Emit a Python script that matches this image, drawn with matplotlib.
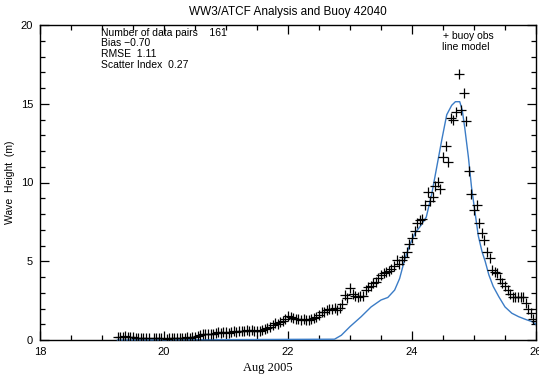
import numpy as np
import matplotlib
matplotlib.use("Agg")
import matplotlib.pyplot as plt
from matplotlib.ticker import MultipleLocator

# buoy obs, hourly from 19.25 Aug (day of month), nan = missing hour
obs_start = 19.25
obs_hs = [
    0.2, 0.2, 0.2, 0.25, 0.2, 0.2, 0.2, 0.15, 0.15, 0.15,
    0.15, 0.15, 0.15, np.nan, 0.15, 0.15, 0.15, 0.15, np.nan, 0.05,
    0.1, 0.1, 0.1, 0.15, 0.15, 0.15, 0.15, 0.2, 0.15, 0.2,
    0.2, 0.25, 0.3, 0.35, 0.4, 0.4, 0.4, 0.4, 0.45, 0.5,
    0.45, 0.5, 0.5, 0.45, 0.5, 0.55, 0.5, 0.55, 0.6, 0.6,
    0.65, 0.6, 0.65, 0.6, 0.6, 0.6, 0.65, 0.7, 0.75, 0.85,
    0.95, 1.05, 1.0, 1.15, 1.2, 1.35, 1.5, 1.45, 1.4, 1.35,
    1.35, 1.3, 1.35, 1.3, 1.3, 1.35, 1.4, 1.45, 1.6, 1.75,
    1.8, 1.9, 2.0, 1.95, 2.05, 1.9, 2.05, 2.3, 2.85, 2.65,
    3.3, 2.9, 2.8, 2.75, 2.8, 2.8, 3.15, 3.35, 3.4, 3.6,
    3.7, 3.95, 4.1, 4.25, 4.3, 4.4, 4.5, 4.7, 5.05, 4.85,
    5.1, 5.3, 5.6, 6.1, 6.5, 6.9, 7.4, 7.6, 7.7, 8.6,
    9.4, 8.8, 9.1, 9.8, 10.05, 9.6, 11.6, 12.3, 11.3, 14.1,
    14.0, 14.5, 16.9, 14.6, 15.7, 13.9, 10.7, 9.3, 8.25, 8.6,
    7.4, 6.8, 6.35, 5.6, 5.2, 4.45, 4.3, 4.25, 3.9, 3.6,
    3.4, 3.15, 2.95, 2.75, 2.7, 2.75, 2.7, 2.7, 2.35, 2.0,
    1.7, 1.35, 1.2,
]
obs_days = obs_start + np.arange(len(obs_hs)) / 24.0

# model line
model_days = [19.25, 22.75, 22.86, 23.0, 23.18, 23.34, 23.5, 23.61, 23.72, 23.8,
              23.88, 23.96, 24.05, 24.13, 24.23, 24.32, 24.4, 24.48, 24.56, 24.64,
              24.7, 24.77, 24.81, 24.85, 24.91, 24.96, 25.02, 25.07, 25.13, 25.18,
              25.24, 25.31, 25.4, 25.5, 25.61, 25.72, 25.83, 25.94, 26.0]
model_hs = [0, 0.05, 0.3, 0.85, 1.48, 2.1, 2.54, 2.7, 3.17, 3.9,
            5.08, 6.0, 6.8, 7.2, 7.8, 9.3, 11.0, 12.7, 14.3, 14.9,
            15.13, 15.13, 14.6, 13.5, 11.6, 9.7, 8.0, 6.6, 5.6, 5.0,
            4.13, 3.4, 2.75, 2.1, 1.7, 1.48, 1.31, 1.16, 1.0]

stats = ["Number of data pairs    161", "Bias \u22120.70", "RMSE  1.11", "Scatter Index  0.27"]

plt.rcParams['font.family'] = ['Liberation Sans', 'DejaVu Sans']

fig = plt.figure(figsize=(5.39, 3.77), dpi=100)
ax = fig.add_axes([40/539, 37/377, 496/539, 315/377])

ax.plot(model_days, model_hs, color='#3b7cc6', lw=1.0, zorder=3, clip_on=False)
ax.plot(obs_days, obs_hs, ls='none', marker='+', ms=6.5, mew=0.9, color='black', zorder=4)

ax.set_xlim(18, 26)
ax.set_ylim(0, 20)
ax.xaxis.set_major_locator(MultipleLocator(2))
ax.xaxis.set_minor_locator(MultipleLocator(0.5))
ax.yaxis.set_major_locator(MultipleLocator(5))
ax.yaxis.set_minor_locator(MultipleLocator(1))
ax.tick_params(which='both', direction='in', top=True, right=True, labelsize=8, width=0.9)
ax.tick_params(which='major', length=6.5, pad=5)
ax.tick_params(which='minor', length=3.5)
for s in ax.spines.values():
    s.set_linewidth(1.0)

ax.set_ylabel("Wave  Height  (m)", fontsize=7.5)
ax.yaxis.set_label_coords(-0.05, 0.5)
fig.text(288/539, 1 - 12/377, "WW3/ATCF Analysis and Buoy 42040", ha='center', va='center', fontsize=8.5)
fig.text(268/539, 1 - 368/377, "Aug 2005", ha='center', va='center', fontsize=9,
         family='Liberation Serif')

for k, line in enumerate(stats):
    fig.text(101/539, 1 - (33 + 10.5*k)/377, line, ha='left', va='center', fontsize=7.5)
fig.text(443/539, 1 - 36/377, "+ buoy obs", ha='left', va='center', fontsize=7.5)
fig.text(442/539, 1 - 47/377, "line model", ha='left', va='center', fontsize=7.5)

fig.savefig("out.png", dpi=100)
